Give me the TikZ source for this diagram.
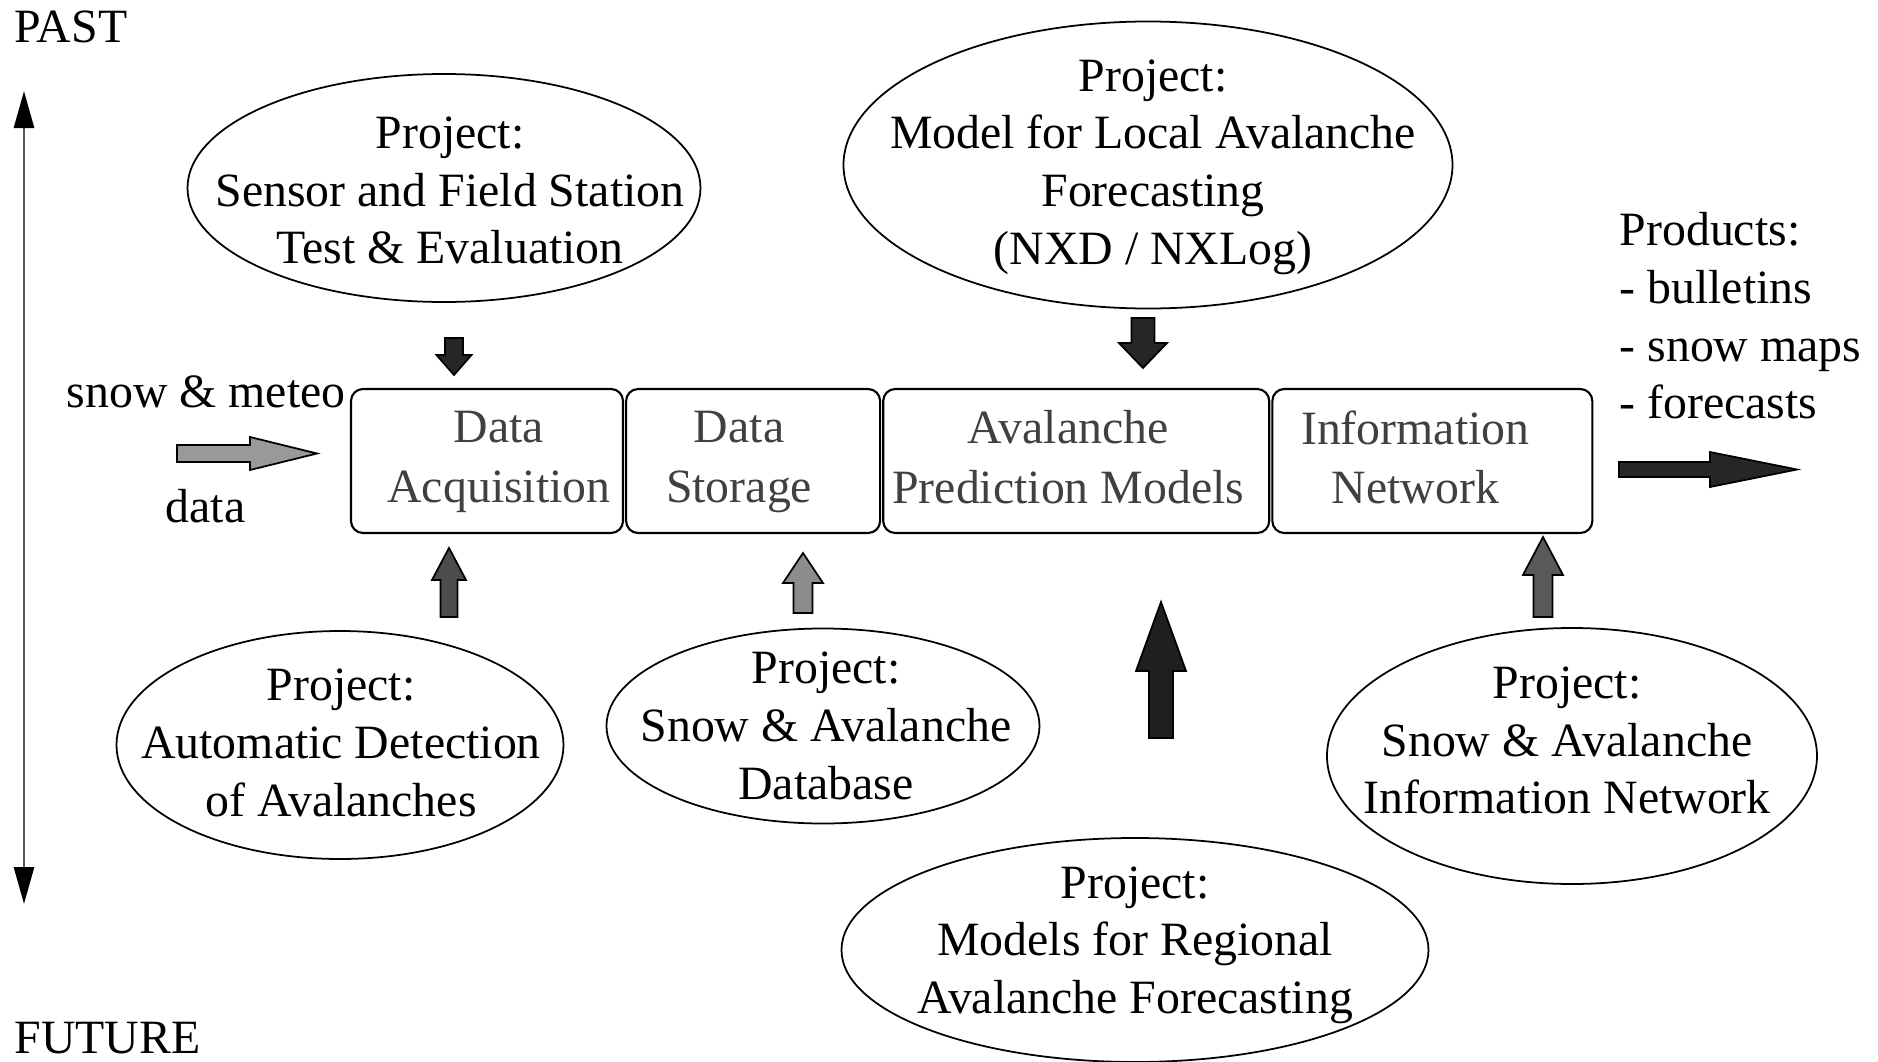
\documentclass[tikz,border=0pt]{standalone}
\usepackage{fontspec}
\setmainfont{Liberation Serif}
\usetikzlibrary{positioning,shapes.geometric,arrows.meta}

\tikzset{
  stage/.style={draw,rounded corners=1.2mm,line width=0.6pt,minimum height=1.44cm,inner sep=0pt},
  stagetext/.style={align=center,text=black!75,text depth=0.22em,font=\fontsize{13.6}{17}\selectfont},
  project/.style={draw,ellipse,line width=0.5pt,inner sep=0pt},
  plain/.style={inner sep=0pt}
}

\begin{document}
\begin{tikzpicture}[font=\fontsize{13.6}{16.4}\selectfont]
\useasboundingbox (0,0) rectangle (18.78,10.61);
\clip (0,0) rectangle (18.78,10.61);

% time axis on the left
\node[plain,anchor=base west] (past) at (0.14,10.19) {PAST};
\node[plain,anchor=base west] (future) at (0.14,0.08) {FUTURE};
\draw[black!65,line width=0.8pt,
  {Triangle[length=3.7mm,width=2mm,color=black]}-{Triangle[length=3.7mm,width=2mm,color=black]}]
  (0.24,9.70) -- (0.24,1.57);

% chain of the four stages
\node[stage,minimum width=2.72cm] (acq) at (4.87,6.00) {};
\node[stage,minimum width=2.54cm,right=0.01cm of acq] (stor) {};
\node[stage,minimum width=3.86cm,right=0.01cm of stor] (pred) {};
\node[stage,minimum width=3.20cm,right=0.01cm of pred] (net) {};
\node[stagetext] (acqtext) at ([xshift=0.12cm]acq) {Data\\Acquisition};
\node[stagetext] (stortext) at ([xshift=-0.14cm]stor) {Data\\Storage};
\node[stagetext] (predtext) at ([xshift=-0.08cm]pred) {Avalanche\\Prediction Models};
\node[stagetext] (nettext) at ([xshift=-0.17cm]net) {Information\\Network};

% input and output
\node[plain,anchor=base west] (snowin) at (0.66,6.54) {snow \& meteo};
\node[plain,anchor=base west] (datain) at (1.65,5.39) {data};
\filldraw[fill=black!40,line width=0.5pt]
  (1.77,5.99) -- (2.50,5.99) -- (2.50,5.91) -- (3.17,6.075)
  -- (2.50,6.24) -- (2.50,6.16) -- (1.77,6.16) -- cycle;
\node[plain,anchor=north west,align=left] (products) at (16.19,8.49)
  {Products:\\- bulletins\\- snow maps\\- forecasts};
\filldraw[fill=black!85,line width=0.5pt]
  (16.19,5.84) -- (17.10,5.84) -- (17.10,5.74) -- (17.97,5.915)
  -- (17.10,6.09) -- (17.10,5.99) -- (16.19,5.99) -- cycle;

% projects above and below the chain (outline first, text on top)
\node[project,minimum width=5.13cm,minimum height=2.28cm] (sensorproj) at (4.44,8.73) {};
\node[project,minimum width=6.09cm,minimum height=2.87cm] (localproj) at (11.48,8.96) {};
\node[project,minimum width=4.47cm,minimum height=2.28cm] (detectproj) at (3.40,3.16) {};
\node[project,minimum width=4.33cm,minimum height=1.95cm] (dbproj) at (8.23,3.35) {};
\node[project,minimum width=4.90cm,minimum height=2.56cm] (netproj) at (15.72,3.05) {};
\node[project,minimum width=5.87cm,minimum height=2.24cm] (regionproj) at (11.35,1.11) {};

\node[align=center] (sensortext) at (4.50,8.705)
  {Project:\\Sensor and Field Station\\Test \& Evaluation};
\node[align=center] (localtext) at (11.53,8.94)
  {Project:\\Model for Local Avalanche\\Forecasting\\(NXD / NXLog)};
\node[align=center] (detecttext) at (3.41,3.18)
  {Project:\\Automatic Detection\\of Avalanches};
\node[align=center] (dbtext) at (8.26,3.35)
  {Project:\\Snow \& Avalanche\\Database};
\node[align=center] (netprojtext) at (15.67,3.205)
  {Project:\\Snow \& Avalanche\\Information Network};
\node[align=center] (regiontext) at (11.35,1.16)
  {Project:\\Models for Regional\\Avalanche Forecasting};

% block arrows: x / tail / head base / tip / half shaft / half head / fill
\foreach \x/\t/\b/\p/\s/\h/\c in {
  4.54/7.23/7.06/6.86/0.09/0.175/black!85,
  11.43/7.43/7.18/6.93/0.115/0.24/black!85,
  4.49/4.44/4.81/5.13/0.085/0.17/black!70,
  8.03/4.48/4.78/5.08/0.095/0.20/black!45,
  11.61/3.23/3.90/4.59/0.12/0.25/black!88,
  15.43/4.44/4.86/5.24/0.095/0.20/black!65}
  \filldraw[fill=\c,line width=0.5pt]
    (\x-\s,\t) -- (\x-\s,\b) -- (\x-\h,\b) -- (\x,\p)
    -- (\x+\h,\b) -- (\x+\s,\b) -- (\x+\s,\t) -- cycle;
\end{tikzpicture}
\end{document}
